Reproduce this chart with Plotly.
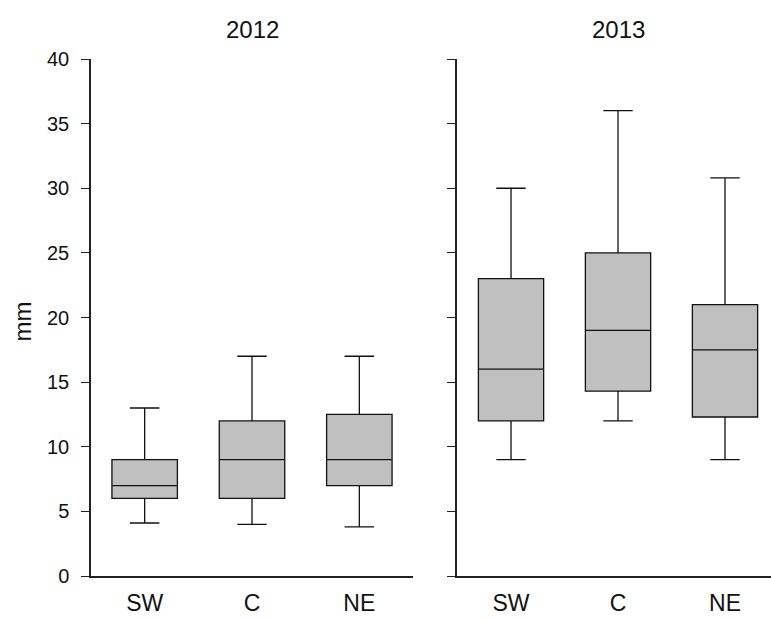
import plotly.graph_objects as go

categories = ["SW", "C", "NE"]
panel_titles = ["2012", "2013"]

# 2012 box statistics
q1_2012 = [6.0, 6.0, 7.0]
median_2012 = [7.0, 9.0, 9.0]
q3_2012 = [9.0, 12.0, 12.5]
low_2012 = [4.1, 4.0, 3.8]
high_2012 = [13.0, 17.0, 17.0]

# 2013 box statistics
q1_2013 = [12.0, 14.3, 12.3]
median_2013 = [16.0, 19.0, 17.5]
q3_2013 = [23.0, 25.0, 21.0]
low_2013 = [9.0, 12.0, 9.0]
high_2013 = [30.0, 36.0, 30.8]

y_ticks = [0, 5, 10, 15, 20, 25, 30, 35, 40]

FONT = "Liberation Sans, Arial, Helvetica, sans-serif"

fig = go.Figure()

def add_box(q1, med, q3, lo, hi, xa, ya):
    fig.add_trace(go.Box(
        x=categories, q1=q1, median=med, q3=q3,
        lowerfence=lo, upperfence=hi,
        boxpoints=False,
        fillcolor="#c0c0c0",
        line=dict(color="#111111", width=1.3),
        width=0.61,
        whiskerwidth=0.45,
        xaxis=xa, yaxis=ya,
        showlegend=False,
    ))

add_box(q1_2012, median_2012, q3_2012, low_2012, high_2012, "x", "y")
add_box(q1_2013, median_2013, q3_2013, low_2013, high_2013, "x2", "y2")

W, H = 771, 619
ml, mr, mt, mb = 91, 0, 59, 43
pw = W - ml - mr
ph = H - mt - mb

xaxis_common = dict(
    type="category", showline=True, linecolor="#222222", linewidth=1.5,
    ticks="", showgrid=False, zeroline=False, automargin=False,
    tickfont=dict(family=FONT, size=23, color="#111111"),
    ticklabelstandoff=6,
)
yaxis_common = dict(
    range=[0, 40], tickvals=y_ticks, showline=True, linecolor="#222222",
    linewidth=1.5, ticks="outside", ticklen=8, tickwidth=1.3, tickcolor="#222222",
    showgrid=False, zeroline=False, automargin=False,
    tickfont=dict(family=FONT, size=20, color="#111111"),
)

fig.update_layout(
    width=W, height=H,
    margin=dict(l=ml, r=mr, t=mt, b=mb, pad=0),
    paper_bgcolor="white", plot_bgcolor="white",
    xaxis=dict(domain=[0, (413 - ml) / pw], range=[-0.5, 2.5], anchor="y", **xaxis_common),
    xaxis2=dict(domain=[(457 - ml) / pw, 1.0], range=[-0.505, 2.43], anchor="y2", **xaxis_common),
    yaxis=dict(anchor="x", ticklabelstandoff=8, **yaxis_common),
    yaxis2=dict(anchor="x2", showticklabels=False, **yaxis_common),
    font=dict(family=FONT, color="#111111"),
)

for i, t in enumerate(panel_titles):
    fig.add_annotation(
        text=t, xref="x" if i == 0 else "x2", yref="paper",
        x="C", y=(H - mb - 29) / ph, yanchor="middle", xanchor="center",
        showarrow=False, font=dict(family=FONT, size=24, color="#111111"),
    )

fig.add_annotation(
    text="mm", xref="paper", yref="paper",
    x=(21.5 - ml) / pw, y=(H - mb - 322) / ph,
    xanchor="center", yanchor="middle", textangle=-90,
    showarrow=False, font=dict(family=FONT, size=24, color="#111111"),
)

fig.write_html("out.html")
